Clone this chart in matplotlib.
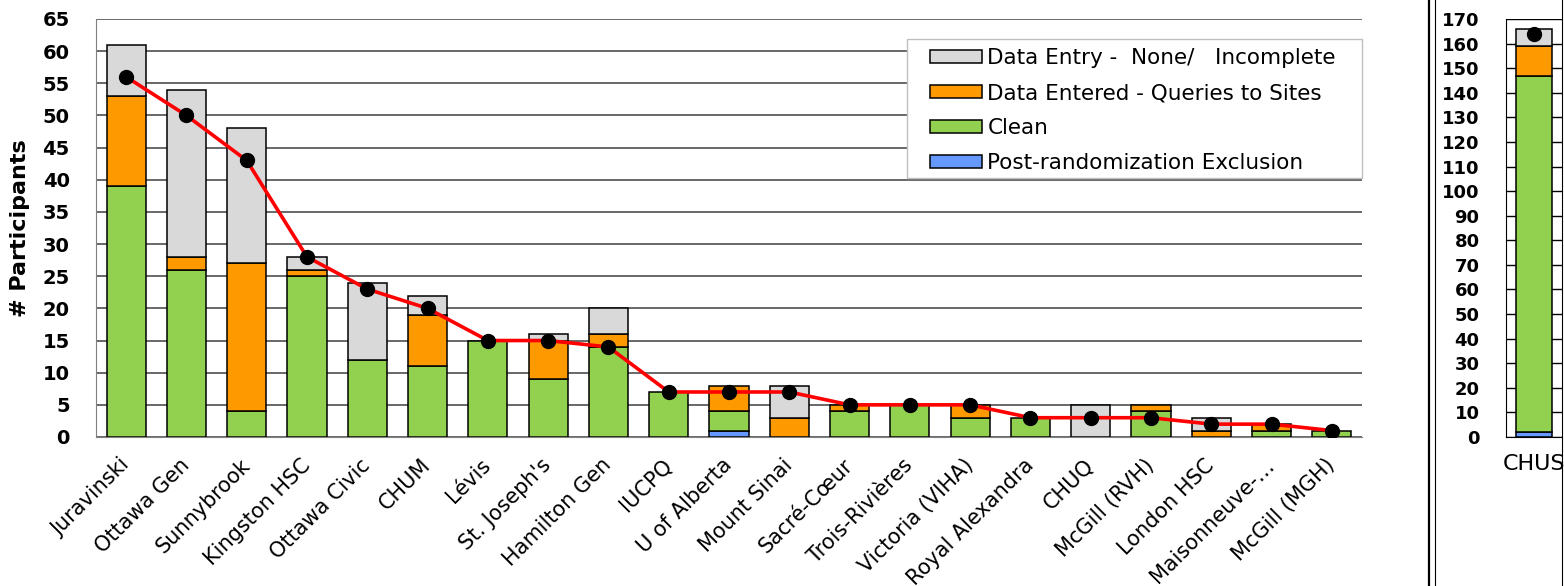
import numpy as np
import matplotlib
matplotlib.use('Agg')
import matplotlib.pyplot as plt
from matplotlib.lines import Line2D
from matplotlib.patches import Rectangle

# data
sites = ['Juravinski', 'Ottawa Gen', 'Sunnybrook', 'Kingston HSC', 'Ottawa Civic', 'CHUM',
         'Lévis', "St. Joseph's", 'Hamilton Gen', 'IUCPQ', 'U of Alberta', 'Mount Sinai',
         'Sacré-Cœur', 'Trois-Rivières', 'Victoria (VIHA)', 'Royal Alexandra', 'CHUQ',
         'McGill (RVH)', 'London HSC', 'Maisonneuve-…', 'McGill (MGH)']
excluded = [0, 0, 0, 0, 0, 0, 0, 0, 0, 0, 1, 0, 0, 0, 0, 0, 0, 0, 0, 0, 0]
clean = [39, 26, 4, 25, 12, 11, 15, 9, 14, 7, 3, 0, 4, 5, 3, 3, 0, 4, 0, 1, 1]
queries = [14, 2, 23, 1, 0, 8, 0, 6, 2, 0, 4, 3, 1, 0, 2, 0, 0, 1, 1, 1, 0]
no_entry = [8, 26, 21, 2, 12, 3, 0, 1, 4, 0, 0, 5, 0, 0, 0, 0, 5, 0, 2, 0, 0]
target = [56, 50, 43, 28, 23, 20, 15, 15, 14, 7, 7, 7, 5, 5, 5, 3, 3, 3, 2, 2, 1]

chus_label = ['CHUS']
chus_excluded = [2]
chus_clean = [145]
chus_queries = [12]
chus_no_entry = [7]
chus_target = [164]

series_names = ['Post-randomization Exclusion', 'Clean',
                'Data Entered - Queries to Sites', 'Data Entry -  None/   Incomplete']
colors = ['#6699FF', '#92D050', '#FF9900', '#D9D9D9']

W, H = 1564, 586
fig = plt.figure(figsize=(W / 100, H / 100), dpi=100)
ax = fig.add_axes([96 / W, 1 - 437 / H, (1362 - 96) / W, (437 - 19) / H])
ax2 = fig.add_axes([1506 / W, 1 - 437 / H, (1562 - 1506) / W, (437 - 19) / H])


def stack(a, labels, parts):
    x = np.arange(len(labels))
    bottom = np.zeros(len(labels))
    handles = []
    for vals, c, name in zip(parts, colors, series_names):
        vals = np.array(vals, dtype=float)
        keep = vals > 0
        h = a.bar(x[keep], vals[keep], bottom=bottom[keep], width=0.65, color=c,
                  edgecolor='black', linewidth=1.1, zorder=2, label=name)
        handles.append(h)
        bottom += vals
    return x, handles


x, handles = stack(ax, sites, [excluded, clean, queries, no_entry])
ax.plot(x, target, color='#FF0000', lw=2.6, marker='o', ms=10,
        mfc='black', mec='black', zorder=4)

ax.set_xlim(-0.5, len(sites) - 0.5)
ax.set_ylim(0, 65)
ax.set_yticks(np.arange(0, 66, 5))
ax.yaxis.grid(True, color='#404040', lw=1.1, zorder=0)
ax.set_axisbelow(True)
for s in ['top', 'right']:
    ax.spines[s].set_visible(False)
ax.spines['left'].set_color('#808080')
ax.spines['bottom'].set_color('#808080')
ax.tick_params(axis='y', length=0, pad=19, labelsize=14)
for t in ax.get_yticklabels():
    t.set_fontweight('bold')
ax.set_xticks(x)
ax.set_xticklabels(sites, rotation=45, ha='right', va='center',
                   rotation_mode='anchor', fontsize=15)
ax.tick_params(axis='x', length=0, pad=18)
ax.set_ylabel('# Participants', fontsize=16, fontweight='bold')
ax.yaxis.set_label_coords(-0.052, 0.5)

# legend box and entries (reverse stacking order)
ax.add_patch(Rectangle((907 / W, 1 - 178 / H), (1362 - 907) / W, (178 - 39) / H,
                       transform=fig.transFigure, facecolor='white', clip_on=False,
                       edgecolor='#BFBFBF', lw=1, zorder=5))
leg = ax.legend(handles[::-1], series_names[::-1], loc='upper left',
                bbox_to_anchor=(930 / W, 1 - 48 / H), bbox_transform=fig.transFigure,
                frameon=False, fontsize=15.5, handlelength=2.4, handleheight=0.6,
                handletextpad=0.27, labelspacing=0.7, borderpad=0, borderaxespad=0)
leg.set_zorder(6)

# CHUS panel
x2, _ = stack(ax2, chus_label, [chus_excluded, chus_clean, chus_queries, chus_no_entry])
ax2.plot(x2, chus_target, 'o', ms=10, color='black', zorder=4)
ax2.set_xlim(-0.5, 0.5)
ax2.set_ylim(0, 170)
ax2.set_yticks(np.arange(0, 171, 10))
ax2.yaxis.grid(True, color='black', lw=1, zorder=0)
ax2.set_axisbelow(True)
for s in ['top', 'right']:
    ax2.spines[s].set_visible(False)
ax2.tick_params(axis='y', length=0, pad=19, labelsize=13)
for t in ax2.get_yticklabels():
    t.set_fontweight('bold')
ax2.set_xticks(x2)
ax2.set_xticklabels(chus_label, fontsize=16)
ax2.tick_params(axis='x', length=0, pad=12)

# panel border lines
for xp, lw in [(1429, 1.6), (1435, 0.8), (1562, 0.8)]:
    fig.add_artist(Line2D([xp / W, xp / W], [0, 1], transform=fig.transFigure,
                          color='black', lw=lw))

fig.savefig('out.png', dpi=100)
